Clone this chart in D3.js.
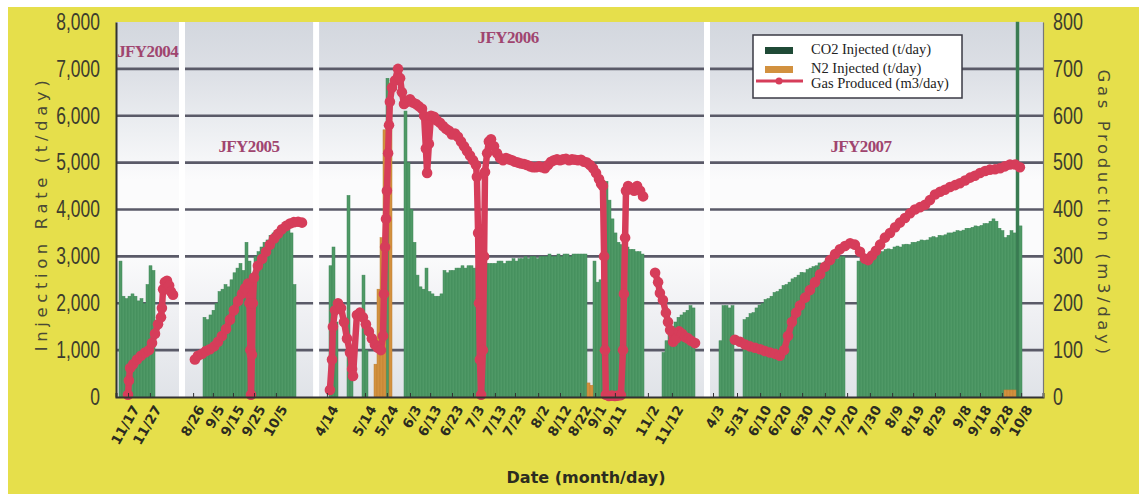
<!DOCTYPE html>
<html>
<head>
<meta charset="utf-8">
<script src="https://cdn.jsdelivr.net/npm/d3@7"></script>
<style>
  html, body { margin: 0; padding: 0; background: #ffffff; }
  svg { display: block; }
</style>
</head>
<body>
<svg id="chart" width="1141" height="496"></svg>
<script>
// ---------------- data ----------------
// Horizontal position is a running "slot" number: one slot per injection day,
// fiscal years are laid end to end with gaps between campaigns.
const slotCount = 309;

const leftTicks  = [0, 1000, 2000, 3000, 4000, 5000, 6000, 7000, 8000];
const rightTicks = [0, 100, 200, 300, 400, 500, 600, 700, 800];

const fiscalYears     = ["JFY2004", "JFY2005", "JFY2006", "JFY2007"];
const fiscalYearBreaks = [22, 66.7, 197];

const dateLabels = ["11/17", "11/27",
  "8/26", "9/5", "9/15", "9/25", "10/5",
  "4/14", "5/14", "5/24", "6/3", "6/13", "6/23", "7/3", "7/13", "7/23", "8/2", "8/12", "8/22", "9/1", "9/11", "11/2", "11/12",
  "4/3", "5/31", "6/10", "6/20", "6/30", "7/10", "7/20", "7/30", "8/9", "8/19", "8/29", "9/8", "9/18", "9/28", "10/8"];
const dateSlots = [4, 11.3,
  25.7, 32.3, 39, 46, 53.3,
  70.3, 83, 90.3, 98, 104.7, 112, 119, 126.3, 133, 140.7, 148, 154.7, 159.7, 166.3, 177.3, 185.3,
  199, 207, 214.7, 221.3, 228.7, 236.3, 243.7, 251.3, 258.7, 265.7, 273, 281.3, 288, 295.3, 301.7];

// CO2 injected (t/day): first slot of each run, then one value per slot (null = no injection)
const co2Start2004 = 1;
const co2FY2004 = [2900, 2150, 2100, 2150, 2200, 2150, 2050, 2100, 2000, 2400, 2800, 2700];

const co2Start2005 = 29;
const co2FY2005 = [1700, 1650, 1750, 1850, 2000, 2250, 2300, 2400, 2350, 2500, 2650, 2750, 2850, 2700,
  3300, 2900, 2600, 3000, 3100, 3200, 3300, 3350, 3450, 3500, 3550, 3500, 3600, 3700, 3750, 3500, 2400];

const co2Start2006 = 71;
const co2FY2006 = [2800, 3200, 1600, null, null, null, 4300, 1000, null, null, null, 2600, 1000,
  null, null, null, null, null, null, 6800, null, null, null, null, null,
  6100, 5000, 4000, 3300, 2600, 2350, 2300, 2750, 2250, 2200, 2150, 2150, 2200, 2700, 2650, 2700, 2700,
  2750, 2750, 2800, 2750, 2800, 2800, 2750, 2800, 2850, 2800, 2850, 2850, 2850,
  2850, 2900, 2900, 2850, 2900, 2900,
  2950, 2900, 2950, 2950, 3000, 2950, 3000, 3000, 2950, 3000, 3000, 3000, 3050, 3000, 3000, 3050,
  3000, 3050, 3050, 3000, 3050, 3050, 3050, 3050, 3050,
  null, null, 2900, 2450, 2500, 2600, 4600, 4200, 3800, 3500, 3300, 3250, 3200, 3200, 3150, 3150,
  3100, 3100, 3050];

const co2StartLate2006 = 182;
const co2Late2006 = [950, 1200, 1400, 1500, 1600, 1700, 1750, 1800, 1850, 1950, 1900];

const co2Start2007 = 201;
const co2FY2007 = [1200, 1950, 1950, 1900, 1950, null, null, null,
  1650, 1700, 1780, 1800, 1900, 1960, 2000, 2080, 2100, 2150, 2230, 2250, 2300, 2380, 2400, 2450,
  2520, 2550, 2600, 2660, 2650, 2720, 2750, 2780, 2800, 2860, 2850, 2900, 2920, 2950, 2960, 2950,
  3000, 3000, null, null, null, null,
  2900, 2950, 2980, 3000, 3020, 3050, 3060, 3100, 3100, 3150, 3160, 3150, 3200, 3220, 3200,
  3250, 3260, 3250, 3300, 3300, 3320, 3350, 3340, 3350, 3400, 3420, 3400, 3450, 3440, 3460,
  3500, 3500, 3520, 3550, 3540, 3560, 3600, 3600, 3620, 3650, 3640, 3660, 3700, 3700, 3750,
  3800, 3750, 3600, 3550, 3400, 3450, 3550, 3500, 8000, 3650];

// N2 injected (t/day)
const n2Start2006 = 86;
const n2FY2006 = [700, 2300, 3400, 5700, null, 6700];
const n2StartLate2006 = 157;
const n2Late2006 = [300, 250];
const n2Start2007 = 296;
const n2FY2007 = [150, 150, 150, 150];

// Gas produced (m3/day): [slot, value]
const gasFY2004 = [[4.0, 5], [4.3, 35], [4.7, 62], [5.7, 70], [7.0, 80], [8.3, 88], [9.7, 95], [11.0, 100],
  [12.0, 115], [13.0, 135], [14.0, 155], [15.0, 170], [15.3, 190], [15.7, 230], [16.3, 245], [17.0, 248],
  [17.7, 238], [18.3, 225], [19.0, 218]];

const gasFY2005 = [[26.3, 80], [27.3, 88], [28.7, 92], [30.0, 98], [31.3, 102], [32.7, 108], [34.0, 118],
  [35.3, 130], [36.7, 145], [38.0, 165], [39.3, 185], [40.7, 205], [42.0, 220], [43.0, 232], [44.0, 242],
  [44.5, 200], [44.8, 100], [45.0, 5], [45.3, 90], [45.6, 200], [46.0, 255], [47.3, 280], [48.7, 295],
  [50.0, 310], [51.3, 325], [52.7, 338], [54.0, 348], [55.3, 358], [56.7, 365], [58.0, 370], [59.3, 373],
  [60.7, 374], [62.0, 372]];

const gasFY2006 = [[71.3, 15], [72.0, 80], [72.3, 150], [73.0, 185], [74.0, 200], [75.0, 190], [76.0, 160],
  [77.0, 125], [78.0, 95], [78.7, 60], [79.0, 45], [80.3, 175], [81.3, 180], [82.3, 170], [83.3, 155],
  [84.3, 140], [85.3, 125], [86.3, 112], [87.3, 105], [88.3, 100], [89.0, 130], [89.3, 220], [89.7, 320],
  [90.0, 380], [90.3, 440], [90.7, 520], [91.0, 580], [91.3, 630], [92.0, 660], [93.0, 675], [94.0, 700],
  [94.7, 680], [95.3, 650], [96.0, 625], [97.0, 630], [98.0, 635], [99.0, 628], [100.0, 625], [101.0, 620],
  [102.0, 615], [102.7, 600], [103.3, 530], [103.7, 478], [104.3, 540], [105.0, 600], [106.0, 598],
  [107.0, 590], [108.0, 585], [109.0, 578], [110.0, 572], [111.0, 568], [112.0, 560], [113.0, 562],
  [114.0, 555], [115.0, 545], [116.0, 535], [117.0, 525], [118.0, 515], [119.0, 505], [120.0, 495],
  [120.3, 470], [120.7, 350], [121.0, 200], [121.3, 80], [121.7, 5], [122.3, 100], [122.7, 300],
  [123.0, 480], [123.7, 520], [124.3, 545], [125.0, 550], [126.0, 535], [127.0, 520], [128.0, 510],
  [129.0, 505], [130.0, 510], [131.0, 507], [132.0, 505], [133.0, 502], [134.0, 500], [135.0, 498],
  [136.0, 497], [137.0, 495], [138.0, 492], [139.0, 490], [140.0, 490], [141.0, 492], [142.0, 490],
  [143.0, 488], [144.0, 495], [145.0, 502], [146.0, 505], [147.0, 507], [148.0, 505], [149.0, 507],
  [150.0, 508], [151.0, 505], [152.0, 507], [153.0, 506], [154.0, 505], [155.0, 506], [156.0, 502],
  [157.0, 500], [158.0, 495], [159.0, 488], [160.0, 478], [161.0, 465], [161.7, 455], [162.3, 450],
  [162.7, 300], [163.0, 100], [163.3, 5], [164.3, 2], [165.3, 3], [166.3, 2], [167.3, 3], [168.3, 4],
  [169.0, 100], [169.3, 220], [169.7, 340], [170.0, 440], [170.7, 450], [171.7, 445], [172.7, 440],
  [173.7, 450], [174.7, 440], [175.7, 428]];

const gasLate2006 = [[179.7, 265], [180.7, 245], [181.3, 222], [182.3, 207], [183.3, 180], [184.0, 160],
  [184.7, 143], [185.7, 118], [186.7, 125], [187.7, 140], [188.7, 135], [189.7, 128], [190.7, 125],
  [191.7, 120], [193.0, 115]];

const gasFY2007 = [[206.3, 122], [208.0, 118], [209.7, 112], [211.3, 108], [213.0, 105], [214.7, 102],
  [216.3, 98], [218.0, 95], [219.7, 92], [221.3, 88], [222.7, 100], [224.0, 130], [225.3, 160],
  [226.7, 180], [228.0, 195], [229.7, 212], [231.3, 228], [233.0, 245], [234.7, 262], [236.3, 278],
  [238.0, 292], [239.7, 305], [241.3, 315], [243.0, 322], [244.7, 328], [246.3, 325], [248.0, 310],
  [249.7, 295], [250.7, 292], [252.0, 302], [253.3, 312], [254.7, 325], [256.3, 340], [258.0, 350],
  [259.7, 362], [261.3, 372], [263.0, 382], [264.7, 392], [266.3, 400], [268.0, 405], [269.7, 410],
  [271.3, 420], [273.0, 432], [274.7, 438], [276.3, 442], [278.0, 448], [279.7, 452], [281.3, 456],
  [283.0, 462], [284.7, 468], [286.3, 472], [288.0, 478], [289.7, 482], [291.3, 485], [293.0, 486],
  [294.7, 488], [296.3, 492], [298.0, 496], [299.7, 496], [301.3, 490]];

const legendItems = ["CO2 Injected (t/day)", "N2 Injected (t/day)", "Gas Produced (m3/day)"];

// ---------------- drawing ----------------
const svg = d3.select("#chart");
const W = 1141, H = 496;
const plot = { left: 116, right: 1043, top: 22, bottom: 397 };

const x  = d3.scaleLinear().domain([0, slotCount]).range([plot.left, plot.right]);
const yL = d3.scaleLinear().domain([0, 8000]).range([plot.bottom, plot.top]);
const yR = d3.scaleLinear().domain([0, 800]).range([plot.bottom, plot.top]);

const colors = {
  frame: "#e6df4b",
  co2: "#4f9966",
  co2Edge: "#3f8757",
  co2Legend: "#1f4a36",
  n2: "#d2913f",
  gas: "#d63d5a",
  grid: "#5a5a68",
  axisText: "#3d3d2e",
  fy: "#a0456f"
};

// yellow frame
svg.append("rect").attr("x", 8).attr("y", 7).attr("width", W - 10).attr("height", H - 9)
  .attr("fill", colors.frame);

// plot background gradient
const defs = svg.append("defs");
const grad = defs.append("linearGradient").attr("id", "plotBg")
  .attr("x1", 0).attr("y1", 0).attr("x2", 0).attr("y2", 1);
[[0, "#d3d7de"], [0.14, "#dde0e6"], [0.3, "#eef0f3"], [0.42, "#fbfbfc"], [0.62, "#fbfbfc"],
 [0.78, "#eff0f3"], [1, "#e0e3e8"]].forEach(([o, c]) =>
  grad.append("stop").attr("offset", o).attr("stop-color", c));

svg.append("rect")
  .attr("x", plot.left).attr("y", plot.top)
  .attr("width", plot.right - plot.left).attr("height", plot.bottom - plot.top)
  .attr("fill", "url(#plotBg)");

// horizontal gridlines
svg.append("g").selectAll("line")
  .data(leftTicks.filter(v => v > 0 && v < 8000))
  .join("line")
  .attr("x1", plot.left).attr("x2", plot.right)
  .attr("y1", d => yL(d)).attr("y2", d => yL(d))
  .attr("stroke", colors.grid).attr("stroke-width", 2.6);

// white bands splitting the fiscal years
svg.append("g").selectAll("rect")
  .data(fiscalYearBreaks)
  .join("rect")
  .attr("x", d => x(d) - 3).attr("width", 6)
  .attr("y", plot.top).attr("height", plot.bottom - plot.top)
  .attr("fill", "#ffffff");

// fiscal year captions
const fyPos = [
  { slot: 0.4, v: 7330, anchor: "start" },
  { slot: 44.3, v: 5320, anchor: "middle" },
  { slot: 130.7, v: 7630, anchor: "middle" },
  { slot: 248.3, v: 5320, anchor: "middle" }
];
svg.append("g").selectAll("text")
  .data(fiscalYears)
  .join("text")
  .attr("x", (d, i) => x(fyPos[i].slot))
  .attr("y", (d, i) => yL(fyPos[i].v))
  .attr("text-anchor", (d, i) => fyPos[i].anchor)
  .attr("dominant-baseline", "middle")
  .attr("font-family", "'Liberation Serif', 'Times New Roman', serif")
  .attr("font-weight", "bold")
  .attr("font-size", 17)
  .attr("letter-spacing", -0.6)
  .attr("fill", colors.fy)
  .text(d => d);

// bars
function runToBars(start, values) {
  return values.map((v, i) => ({ slot: start + i, v })).filter(d => d.v != null);
}
const co2Bars = [
  ...runToBars(co2Start2004, co2FY2004),
  ...runToBars(co2Start2005, co2FY2005),
  ...runToBars(co2Start2006, co2FY2006),
  ...runToBars(co2StartLate2006, co2Late2006),
  ...runToBars(co2Start2007, co2FY2007)
];
const n2Bars = [
  ...runToBars(n2Start2006, n2FY2006),
  ...runToBars(n2StartLate2006, n2Late2006),
  ...runToBars(n2Start2007, n2FY2007)
];
const slotW = x(1) - x(0);

svg.append("g").selectAll("rect")
  .data(co2Bars)
  .join("rect")
  .attr("x", d => x(d.slot))
  .attr("width", slotW)
  .attr("y", d => yL(d.v))
  .attr("height", d => yL(0) - yL(d.v))
  .attr("fill", d => d.v >= 8000 ? "#3a7a52" : colors.co2)
  .attr("stroke", colors.co2Edge)
  .attr("stroke-width", 0.5);

svg.append("g").selectAll("rect")
  .data(n2Bars)
  .join("rect")
  .attr("x", d => x(d.slot))
  .attr("width", slotW)
  .attr("y", d => yL(d.v))
  .attr("height", d => yL(0) - yL(d.v))
  .attr("fill", colors.n2)
  .attr("stroke", "#c07f32")
  .attr("stroke-width", 0.5);

// gas produced line with markers
const gasSeries = [gasFY2004, gasFY2005, gasFY2006, gasLate2006, gasFY2007];
const line = d3.line().x(d => x(d[0])).y(d => yR(d[1]));
const gasG = svg.append("g");
gasSeries.forEach(s => {
  gasG.append("path").datum(s)
    .attr("d", line)
    .attr("fill", "none")
    .attr("stroke", colors.gas)
    .attr("stroke-width", 6.5)
    .attr("stroke-linejoin", "round")
    .attr("stroke-linecap", "round");
  gasG.append("g").selectAll("circle")
    .data(s)
    .join("circle")
    .attr("cx", d => x(d[0]))
    .attr("cy", d => yR(d[1]))
    .attr("r", 5.3)
    .attr("fill", colors.gas);
});

// axes
const xAxis = d3.axisBottom(x)
  .tickValues(dateSlots)
  .tickFormat((d, i) => dateLabels[i])
  .tickSize(-4)
  .tickPadding(0);
const gx = svg.append("g").attr("transform", `translate(0,${plot.bottom})`).call(xAxis);
gx.select(".domain").attr("stroke", "#333333").attr("stroke-width", 2);
gx.selectAll(".tick line").attr("stroke", "#333333");
gx.selectAll(".tick text")
  .attr("font-family", "'DejaVu Sans', sans-serif")
  .attr("font-weight", "bold")
  .attr("font-size", 13.5)
  .attr("fill", "#2c2c20")
  .attr("text-anchor", "end")
  .attr("dy", "0.72em")
  .attr("y", 0)
  .attr("transform", "translate(3,7) rotate(-60)");

const narrowFont = "'Liberation Sans', Arial, sans-serif";
const gyL = svg.append("g").attr("transform", `translate(${plot.left},0)`)
  .call(d3.axisLeft(yL).tickValues(leftTicks).tickFormat(d3.format(",")).tickSize(0));
gyL.select(".domain").attr("stroke", "#333333").attr("stroke-width", 2);
gyL.selectAll(".tick text")
  .attr("x", 0)
  .attr("transform", "translate(-16,0) scale(0.76,1)")
  .attr("font-family", narrowFont)
  .attr("font-size", 23)
  .attr("fill", colors.axisText);

const gyR = svg.append("g").attr("transform", `translate(${plot.right},0)`)
  .call(d3.axisRight(yR).tickValues(rightTicks).tickSize(0));
gyR.select(".domain").attr("stroke", "#777777").attr("stroke-width", 1.2);
gyR.selectAll(".tick text")
  .attr("x", 0)
  .attr("transform", "translate(10,0) scale(0.78,1)")
  .attr("font-family", narrowFont)
  .attr("font-size", 23)
  .attr("fill", colors.axisText);

// axis titles
svg.append("text")
  .attr("transform", `translate(42,${(plot.top + plot.bottom) / 2 + 4}) rotate(-90)`)
  .attr("text-anchor", "middle").attr("dominant-baseline", "middle")
  .attr("font-family", "'DejaVu Sans', sans-serif").attr("font-size", 16.5)
  .attr("letter-spacing", 4.6).attr("fill", "#4a4a36")
  .text("Injection Rate (t/day)");

svg.append("text")
  .attr("transform", `translate(1102,${(plot.top + plot.bottom) / 2 + 4}) rotate(90)`)
  .attr("text-anchor", "middle").attr("dominant-baseline", "middle")
  .attr("font-family", "'DejaVu Sans', sans-serif").attr("font-size", 16.5)
  .attr("letter-spacing", 3.6).attr("fill", "#4a4a36")
  .text("Gas Production (m3/day)");

svg.append("text")
  .attr("x", 586).attr("y", 478)
  .attr("text-anchor", "middle").attr("dominant-baseline", "middle")
  .attr("font-family", "'DejaVu Sans', sans-serif").attr("font-weight", "bold").attr("font-size", 16)
  .attr("fill", "#2c2c20")
  .text("Date (month/day)");

// legend
const lg = svg.append("g").attr("transform", "translate(753,35)");
lg.append("rect").attr("width", 209).attr("height", 63)
  .attr("fill", "#ffffff").attr("stroke", "#3a3a44").attr("stroke-width", 1.5);
lg.append("rect").attr("x", 12).attr("y", 12).attr("width", 28).attr("height", 7).attr("fill", colors.co2Legend);
lg.append("rect").attr("x", 12).attr("y", 31).attr("width", 28).attr("height", 7).attr("fill", colors.n2);
lg.append("line").attr("x1", 3).attr("x2", 50).attr("y1", 46).attr("y2", 46)
  .attr("stroke", colors.gas).attr("stroke-width", 3);
lg.append("circle").attr("cx", 26).attr("cy", 46).attr("r", 3.5).attr("fill", colors.gas);
lg.selectAll("text.item")
  .data(legendItems)
  .join("text")
  .attr("class", "item")
  .attr("x", 58)
  .attr("y", (d, i) => [16, 35, 50][i])
  .attr("dominant-baseline", "middle")
  .attr("font-family", "'Liberation Serif', 'Times New Roman', serif")
  .attr("font-size", 14.5)
  .attr("fill", "#222222")
  .text(d => d);
</script>
</body>
</html>
